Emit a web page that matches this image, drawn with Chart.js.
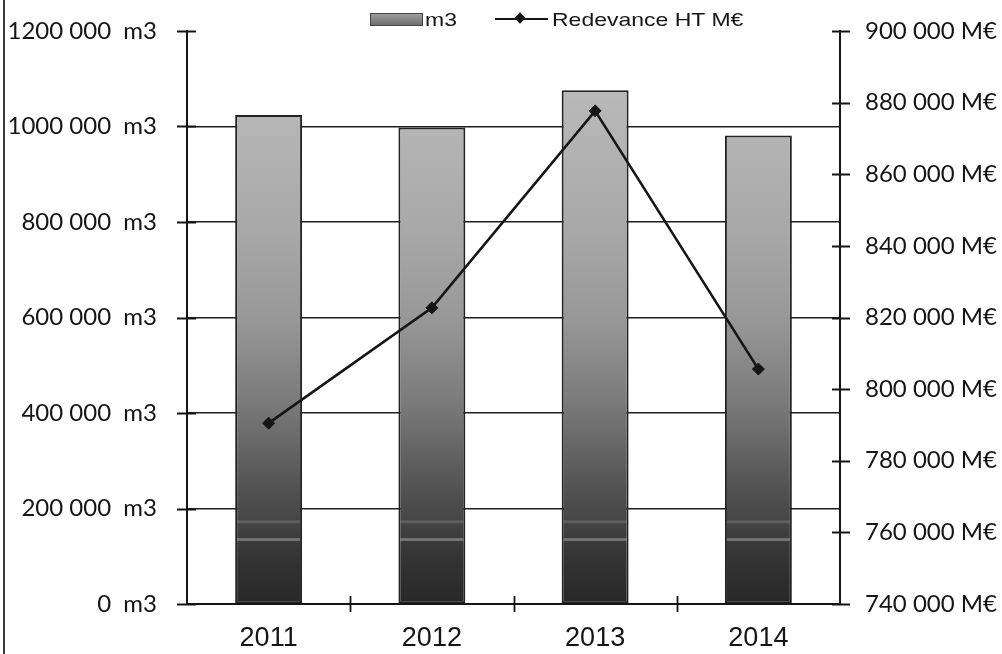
<!DOCTYPE html>
<html>
<head>
<meta charset="utf-8">
<title>Volumes et redevance 2011-2014</title>
<script src="https://cdn.jsdelivr.net/npm/chart.js@4.4.1/dist/chart.umd.min.js"></script>
<style>
  html, body { margin: 0; padding: 0; background: #fff; }
  #wrap { position: relative; width: 1002px; height: 654px; overflow: hidden; background: #fff; }
  #chart { position: absolute; left: 0; top: 0; }
  #frame { position: absolute; left: 3px; top: 0; width: 2px; height: 654px; background: #3a3a3a; }
  .lg { position: absolute; font-family: "Liberation Sans", Arial, sans-serif; font-size: 23px; line-height: 23px;
        color: #151515; white-space: nowrap; transform: scaleY(0.8); transform-origin: 50% 50%; }
  #swatch { position: absolute; left: 370px; top: 13px; width: 51px; height: 11px;
            border: 1px solid #444; background: linear-gradient(#9c9c9c, #707070); }
  #lineSym { position: absolute; left: 495px; top: 18px; width: 53px; height: 2px; background: #151515; }
  #lineSym::after { content: ""; position: absolute; left: 21px; top: -4px; width: 8px; height: 8px;
                    background: #151515; transform: rotate(45deg); }
</style>
</head>
<body>
<div id="wrap">
  <canvas id="chart" width="1002" height="654"></canvas>
  <div id="frame"></div>
  <div id="swatch"></div>
  <div class="lg" style="left:425px; top:8px;">m3</div>
  <div id="lineSym"></div>
  <div class="lg" style="left:552px; top:8px;">Redevance HT M€</div>
</div>
<script>
// Years on the category axis
const years = ['2011', '2012', '2013', '2014'];
// Volumes (m3), bars on the left axis
const volumesM3 = [1024000, 998000, 1076000, 981000];
// Redevance HT (M€), line on the right axis
const redevanceHT = [790500, 822700, 877700, 805600];
// Tick values of both value axes
const volumeTicks = [0, 200000, 400000, 600000, 800000, 1000000, 1200000];
const redevanceTicks = [740000, 760000, 780000, 800000, 820000, 840000, 860000, 880000, 900000];

const INK = '#151515';
const CLEAR = 'rgba(0,0,0,0)';

// Only the last group of three digits is split off: 1200000 -> "1200 000"
function groupThousands(n) {
  const s = String(n);
  return s.length > 3 ? s.slice(0, -3) + ' ' + s.slice(-3) : s;
}

// Vertical grey-to-black fill shared by all bars, spanning the plot area
function barFill(c) {
  const chart = c.chart;
  const a = chart.chartArea;
  if (!a) return '#999';
  const g = chart.ctx.createLinearGradient(0, a.top, 0, a.bottom);
  g.addColorStop(0.00, '#c0c0c0');
  g.addColorStop(0.15, '#b6b6b6');
  g.addColorStop(0.35, '#a8a8a8');
  g.addColorStop(0.50, '#989898');
  g.addColorStop(0.65, '#7a7a7a');
  g.addColorStop(0.80, '#525252');
  g.addColorStop(0.853, '#464646');
  g.addColorStop(0.855, '#5e5e5e');
  g.addColorStop(0.858, '#5e5e5e');
  g.addColorStop(0.860, '#444444');
  g.addColorStop(0.884, '#3c3c3c');
  g.addColorStop(0.886, '#767676');
  g.addColorStop(0.889, '#767676');
  g.addColorStop(0.891, '#3a3a3a');
  g.addColorStop(0.93, '#323232');
  g.addColorStop(1.00, '#282828');
  return g;
}

// Tick marks that cross the axis lines on both sides
const crossTicks = {
  id: 'crossTicks',
  afterDraw(chart) {
    const ctx = chart.ctx;
    const { x, y, y1 } = chart.scales;
    ctx.save();
    ctx.strokeStyle = INK;
    ctx.lineWidth = 1.8;
    ctx.beginPath();
    y.ticks.forEach(t => {
      const py = Math.round(y.getPixelForValue(t.value)) + 0.5;
      ctx.moveTo(y.right - 10, py);
      ctx.lineTo(y.right + 9, py);
    });
    y1.ticks.forEach(t => {
      const py = Math.round(y1.getPixelForValue(t.value)) + 0.5;
      ctx.moveTo(y1.left - 8, py);
      ctx.lineTo(y1.left + 10, py);
    });
    const n = x.ticks.length;
    for (let i = 1; i < n; i++) {
      const px = Math.round(x.left + i * (x.right - x.left) / n) + 0.5;
      ctx.moveTo(px, x.top - 8);
      ctx.lineTo(px, x.top + 8);
    }
    ctx.stroke();
    ctx.restore();
  }
};

new Chart(document.getElementById('chart'), {
  data: {
    labels: years,
    datasets: [
      {
        type: 'line',
        label: 'Redevance HT M€',
        data: redevanceHT,
        yAxisID: 'y1',
        borderColor: INK,
        borderWidth: 2.6,
        pointStyle: 'rectRot',
        pointRadius: 6,
        pointBackgroundColor: INK,
        pointBorderColor: INK,
        pointBorderWidth: 1,
        tension: 0,
        order: 0
      },
      {
        type: 'bar',
        label: 'm3',
        data: volumesM3,
        yAxisID: 'y',
        backgroundColor: barFill,
        borderColor: '#222',
        borderWidth: 2,
        borderSkipped: false,
        barPercentage: 0.41,
        categoryPercentage: 1.0,
        order: 1
      }
    ]
  },
  options: {
    responsive: false,
    animation: false,
    devicePixelRatio: 1,
    layout: { padding: { top: 31, left: 0, right: 0, bottom: 0 } },
    plugins: {
      legend: { display: false },
      tooltip: { enabled: false }
    },
    scales: {
      x: {
        offset: true,
        grid: { display: false, offset: true },
        border: { display: true, color: INK, width: 2 },
        ticks: {
          color: INK,
          padding: 10,
          font: { family: '"Liberation Sans", Arial, sans-serif', size: 27 }
        },
        afterFit(s) { s.height = 50; }
      },
      y: {
        position: 'left',
        min: 0,
        max: 1200000,
        afterBuildTicks(s) { s.ticks = volumeTicks.map(v => ({ value: v })); },
        grid: {
          drawTicks: true,
          tickLength: 28,
          tickColor: CLEAR,
          lineWidth: 1.6,
          color: c => (c.tick && c.tick.value === 1200000) ? CLEAR : '#1e1e1e'
        },
        border: { display: true, color: INK, width: 2 },
        ticks: {
          color: INK,
          padding: 2,
          font: { family: 'Lato, "Open Sans", sans-serif', size: 24 },
          callback: v => groupThousands(v) + '\u00a0\u00a0m3'
        },
        afterFit(s) { s.width = 187; }
      },
      y1: {
        position: 'right',
        min: 740000,
        max: 900000,
        afterBuildTicks(s) { s.ticks = redevanceTicks.map(v => ({ value: v })); },
        grid: { display: true, drawOnChartArea: false, drawTicks: true, tickLength: 23, tickColor: CLEAR, color: CLEAR },
        border: { display: true, color: INK, width: 2 },
        ticks: {
          color: INK,
          padding: 2,
          font: { family: 'Lato, "Open Sans", sans-serif', size: 24 },
          callback: v => groupThousands(v) + ' M€'
        },
        afterFit(s) { s.width = 162; }
      }
    }
  },
  plugins: [crossTicks]
});
</script>
</body>
</html>
